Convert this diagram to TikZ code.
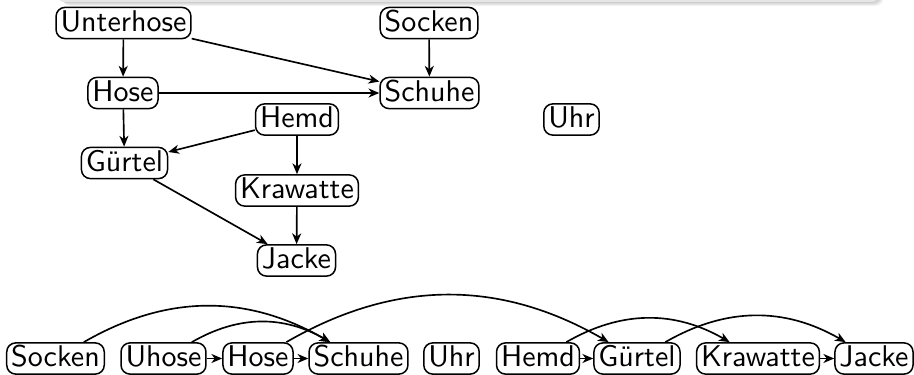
\documentclass[tikz,border=0pt]{standalone}
\usetikzlibrary{arrows.meta}
\begin{document}
\begin{tikzpicture}[x=0.3333pt,y=-0.3333pt,font=\sffamily,
  box/.style={draw,rounded corners=3pt,inner xsep=1.5pt,inner ysep=1pt,text height=7pt,text depth=1.4pt,line width=0.5pt},
  edge/.style={-{Stealth[length=3.6pt,width=3pt,inset=1.1pt]},line width=0.55pt}]
\useasboundingbox (0,0) rectangle (914,375);
% block shadow bar at top
\foreach \i in {1,2,3,4}{
  \fill[black,opacity=0.05,rounded corners=3pt] (58+\i,-12) rectangle (880+\i,2+\i);
}
\fill[black!10,rounded corners=2pt] (58,-12) rectangle (878,2);
% top graph
\node[box] (u)   at (123.5,23)  {Unterhose};
\node[box] (so)  at (429,23)    {Socken};
\node[box] (ho)  at (123,93)    {Hose};
\node[box] (sch) at (429.5,93)  {Schuhe};
\node[box] (he)  at (297,119.5) {Hemd};
\node[box] (uhr) at (571.5,119.5) {Uhr};
\node[box] (gu)  at (124.5,163) {Gürtel};
\node[box] (kr)  at (297,190.5) {Krawatte};
\node[box] (ja)  at (296.5,260.5) {Jacke};
\draw[edge] (u) -- (ho);
\draw[edge] (u) -- (sch);
\draw[edge] (so) -- (sch);
\draw[edge] (ho) -- (sch);
\draw[edge] (ho) -- (gu);
\draw[edge] (he) -- (gu);
\draw[edge] (he) -- (kr);
\draw[edge] (gu) -- (ja);
\draw[edge] (kr) -- (ja);
% bottom chain
\node[box] (b1) at (55.5,358.5)  {Socken};
\node[box] (b2) at (163.5,358.5) {Uhose};
\node[box] (b3) at (258,358.5)   {Hose};
\node[box] (b4) at (358.5,358.5) {Schuhe};
\node[box] (b5) at (451.5,358.5) {Uhr};
\node[box] (b6) at (538,358.5)   {Hemd};
\node[box] (b7) at (637,358.5)   {Gürtel};
\node[box] (b8) at (758,358.5)   {Krawatte};
\node[box] (b9) at (874,358.5)   {Jacke};
\draw[edge] (b1) to[bend left] (b4);
\draw[edge] (b2) -- (b3);
\draw[edge] (b2) to[bend left] (b4);
\draw[edge] (b3) -- (b4);
\draw[edge] (b3) to[bend left] (b7);
\draw[edge] (b6) -- (b7);
\draw[edge] (b6) to[bend left] (b8);
\draw[edge] (b7) to[bend left] (b9);
\draw[edge] (b8) -- (b9);
\end{tikzpicture}
\end{document}
